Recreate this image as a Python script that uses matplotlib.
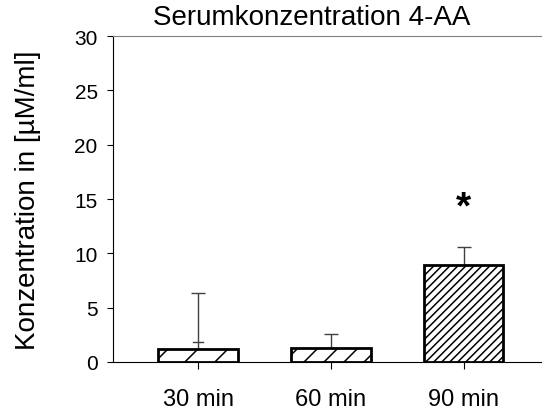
import numpy as np
import matplotlib
matplotlib.use("Agg")
import matplotlib.pyplot as plt
from matplotlib.transforms import IdentityTransform

plt.rcParams['font.family'] = ['Liberation Sans', 'DejaVu Sans']

categories = ["30 min", "60 min", "90 min"]
values = [1.22, 1.25, 8.9]
err_upper = [5.13, 1.33, 1.65]
extra_caps = [1.87, None, None]   # odd second cap on the first bar
hatch_step = [30, 20, 8]          # hatch spacing in pixels
significant = [False, False, True]

fig = plt.figure(figsize=(5.42, 4.14), dpi=100)
ax = fig.add_axes([0.2085, 0.1232, 0.7915, 0.7874])

x = np.arange(len(categories))
bars = ax.bar(x, values, width=0.6, color="white", edgecolor="black",
              linewidth=2, zorder=3)
ax.errorbar(x, values, yerr=[np.zeros(len(values)), err_upper], fmt="none",
            ecolor="#404040", elinewidth=1, capsize=5, capthick=1, zorder=2)
for xi, c in zip(x, extra_caps):
    if c is not None:
        ax.plot([xi - 0.04, xi + 0.04], [c, c], color="#404040", lw=1, zorder=2)

ax.set_xlim(-0.64, 2.59)
ax.set_ylim(0, 30)
ax.set_yticks(range(0, 31, 5))
ax.set_xticks(x)
ax.set_xticklabels(categories, fontsize=17)
ax.tick_params(axis="y", labelsize=15, length=4, direction="out", pad=7)
ax.tick_params(axis="x", length=5, direction="out", pad=14)
ax.spines["right"].set_visible(False)
ax.spines["top"].set_color("#808080")
ax.set_ylabel("Konzentration in [µM/ml]", fontsize=20, labelpad=24)

fig.text(312 / 542, 1 - 18 / 414, "Serumkonzentration 4-AA", fontsize=20,
         ha="center", va="center")

for xi, v, e, s in zip(x, values, err_upper, significant):
    if s:
        ax.text(xi, 14.2, "*", fontsize=28, fontweight="bold",
                ha="center", va="center")

# manual hatching with per-bar spacing
fig.canvas.draw()
for bar, step in zip(bars, hatch_step):
    bb = bar.get_window_extent()
    h = bb.height
    starts = np.arange(bb.x0 + step / 3 - h, bb.x1 + step, step)
    for s0 in starts:
        ln, = ax.plot([s0, s0 + h + 10], [bb.y0, bb.y0 + h + 10],
                      transform=IdentityTransform(), color="black", lw=1.1,
                      zorder=3.5)
        ln.set_clip_path(bar)

fig.savefig("out.png", dpi=100)
